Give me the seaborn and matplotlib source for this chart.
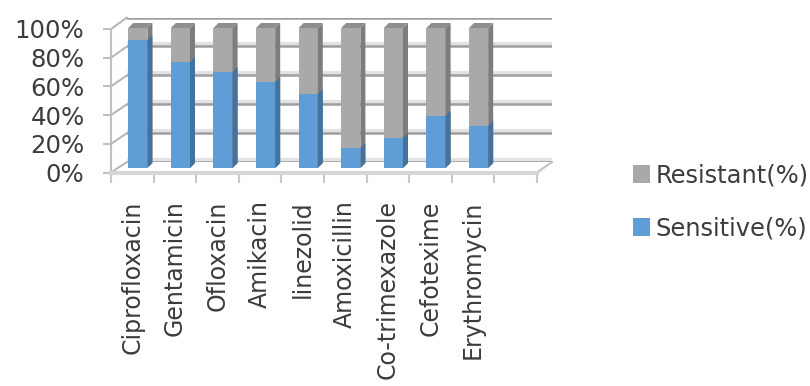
import numpy as np
import pandas as pd
import matplotlib
matplotlib.use("Agg")
import matplotlib.pyplot as plt
import seaborn as sns
from matplotlib.patches import Polygon, Patch
from matplotlib.lines import Line2D

# ---- data -------------------------------------------------------------
drugs = ["Ciprofloxacin", "Gentamicin", "Ofloxacin", "Amikacin", "linezolid",
         "Amoxicillin", "Co-trimexazole", "Cefotexime", "Erythromycin"]
sensitive = [91.4, 75.7, 68.6, 61.4, 52.9, 14.3, 21.4, 37.1, 30.0]
resistant = [8.6, 24.3, 31.4, 38.6, 47.1, 85.7, 78.6, 62.9, 70.0]
series_labels = ["Resistant(%)", "Sensitive(%)"]
ytick_values = [0, 20, 40, 60, 80, 100]
ytick_labels = ["0%", "20%", "40%", "60%", "80%", "100%"]

# ---- style ------------------------------------------------------------
sns.set_theme(style="white")
plt.rcParams["font.family"] = ["DejaVu Sans"]
TEXT = "#3c3c3c"
BLUE, BLUE_SIDE = "#5e9dd6", "#44729f"
GREY, GREY_SIDE, GREY_TOP = "#a9a9a9", "#7d7d7d", "#8e8e8e"
YTICK_FS, XTICK_FS, LEGEND_FS = 17.6, 17.0, 17.4

W, H = 810, 386
fig = plt.figure(figsize=(W / 100, H / 100), dpi=100)
fig.patch.set_facecolor("white")


def rect(x0, x1, y_zero, y_full):
    """Axes box in pixels: left/right edge, y of 0% and of 100%."""
    return [x0 / W, (H - y_zero) / H, (x1 - x0) / W, (y_zero - y_full) / H]


# three planes of the pseudo-3D chart: back wall, front axis, bar plane
ax_back = fig.add_axes(rect(127, 552, 162, 17.5), zorder=0)
ax_front = fig.add_axes(rect(111, 537, 172.5, 29), zorder=1)
ax = fig.add_axes(rect(116.5, 542.5, 168, 28), zorder=2)

# ---- stacked columns --------------------------------------------------
df = pd.DataFrame({"drug": drugs, "Sensitive": sensitive, "Resistant": resistant})
df["Total"] = df["Sensitive"] + df["Resistant"]
sns.barplot(data=df, x="drug", y="Total", order=drugs, color=GREY,
            saturation=1, width=0.45, linewidth=0, ax=ax)
sns.barplot(data=df, x="drug", y="Sensitive", order=drugs, color=BLUE,
            saturation=1, width=0.45, linewidth=0, ax=ax)

for a in (ax_back, ax_front, ax):
    a.set_xlim(-0.5, 9.5)
    a.set_ylim(0, 100)
    a.patch.set_alpha(0)
ax.set_axis_off()
ax_back.set_axis_off()

# depth faces of the columns (offset in pixels)
DX, DY = 5, 5
to_disp = ax.transData.transform
to_axes = ax.transAxes.inverted().transform


def face(points, color):
    pts = to_axes(np.array(points))
    ax.add_patch(Polygon(pts, closed=True, transform=ax.transAxes,
                         facecolor=color, edgecolor="none", clip_on=False,
                         zorder=3))


for container, side_col, with_top in ((ax.containers[0], GREY_SIDE, True),
                                      (ax.containers[1], BLUE_SIDE, False)):
    for bar in container:
        x0, y0 = to_disp((bar.get_x(), bar.get_y()))
        x1, y1 = to_disp((bar.get_x() + bar.get_width(), bar.get_y() + bar.get_height()))
        face([(x1, y0), (x1 + DX, y0 + DY), (x1 + DX, y1 + DY), (x1, y1)], side_col)
        if with_top:
            face([(x0, y1), (x0 + DX, y1 + DY), (x1 + DX, y1 + DY), (x1, y1)], GREY_TOP)

# ---- back wall gridlines and side wall ---------------------------------
for v in ytick_values:
    ax_back.axhline(v + 1.4, color="#e2e2e2", lw=3, zorder=1)
    ax_back.axhline(v, color="#9e9e9e", lw=1.8, zorder=2)

back_axes = ax_back.transAxes.inverted().transform


def connect(p_front, p_back, color, lw):
    a = back_axes(ax_front.transData.transform(p_front))
    b = back_axes(ax_back.transData.transform(p_back))
    ax_back.add_line(Line2D([a[0], b[0]], [a[1], b[1]], transform=ax_back.transAxes,
                            color=color, lw=lw, clip_on=False, zorder=2))


for v in ytick_values:
    connect((-0.5, v), (-0.5, v), "#b4b4b4", 1.4)
connect((9.5, 0), (9.5, 0), "#c4c4c4", 1.6)

# ---- front axis: ticks and labels ------------------------------------
sns.despine(ax=ax_front, top=True, right=True)
ax_front.spines["left"].set_color("#c0c0c0")
ax_front.spines["left"].set_linewidth(1.5)
ax_front.spines["bottom"].set_color("#d6d6d6")
ax_front.spines["bottom"].set_linewidth(3)

ax_front.set_yticks(ytick_values, ytick_labels)
ax_front.tick_params(axis="y", which="major", left=True, length=6, width=1.5,
                     color="#c0c0c0", pad=13, labelsize=YTICK_FS, labelcolor=TEXT)

ax_front.set_xticks(range(len(drugs)), drugs)
ax_front.set_xticks(np.arange(-0.5, 10.0, 1.0), minor=True)
ax_front.tick_params(axis="x", which="major", bottom=True, length=0, pad=20,
                     labelsize=XTICK_FS, labelcolor=TEXT, labelrotation=90)
ax_front.tick_params(axis="x", which="minor", bottom=True, length=7.2, width=1.5,
                     color="#c8c8c8")
ax_front.set_xlabel("")
ax_front.set_ylabel("")

# ---- legend -----------------------------------------------------------
handles = [Patch(facecolor=GREY, edgecolor="none"),
           Patch(facecolor=BLUE, edgecolor="none")]
leg = fig.legend(handles, series_labels, loc="center left",
                 bbox_to_anchor=(633 / W, (H - 202) / H), frameon=False,
                 fontsize=LEGEND_FS, handlelength=0.72, handleheight=0.72,
                 handletextpad=0.2, labelspacing=1.2, borderpad=0,
                 borderaxespad=0)
for t in leg.get_texts():
    t.set_color(TEXT)

fig.savefig("out.png", dpi=100, facecolor="white")
